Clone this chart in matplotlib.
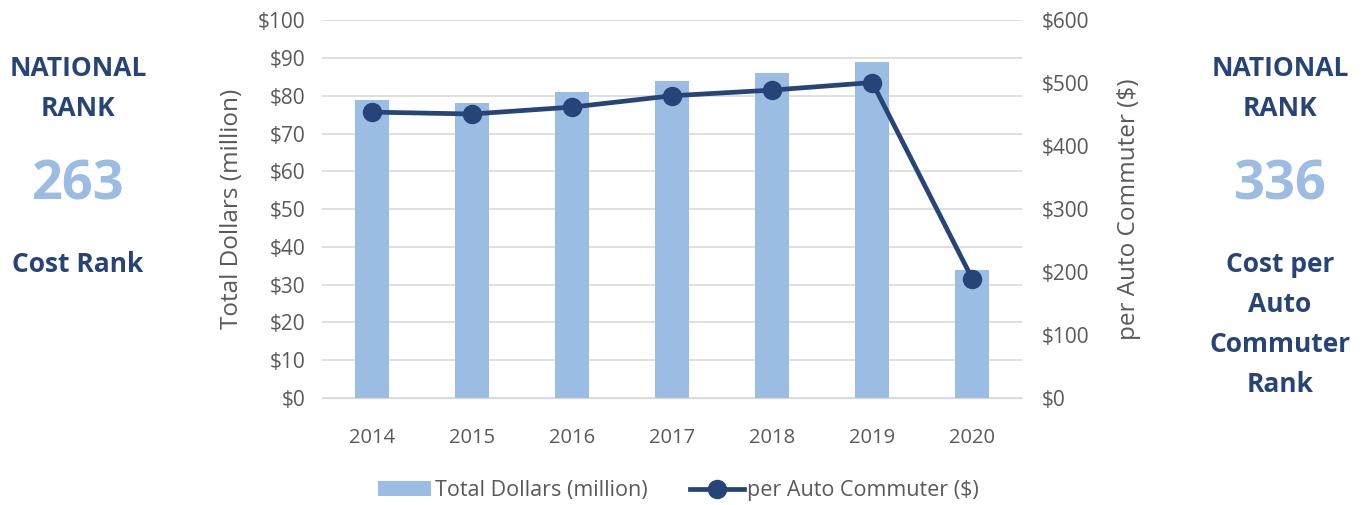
import matplotlib.pyplot as plt
from matplotlib.ticker import FuncFormatter

# Data
years = ['2014', '2015', '2016', '2017', '2018', '2019', '2020']
total_dollars = [79, 78, 81, 84, 86, 89, 34]           # million
per_commuter = [454, 451, 462, 480, 489, 501, 189]     # $
cost_rank = '263'
per_commuter_rank = '336'

navy = '#264478'
bar_blue = '#9BBDE4'
grey = '#595959'

plt.rcParams['font.family'] = ['Open Sans', 'DejaVu Sans']

fig = plt.figure(figsize=(13.65, 5.05), dpi=100)
ax = fig.add_axes([0.236, 0.212, 0.513, 0.748])
ax2 = ax.twinx()

x = range(len(years))
ax.bar(x, total_dollars, width=0.34, color=bar_blue, zorder=2, label='Total Dollars (million)')
ax2.plot(x, per_commuter, color=navy, lw=3.4, marker='o', markersize=13,
         zorder=3, label='per Auto Commuter ($)')

ax.set_ylim(0, 100)
ax.set_yticks(range(0, 101, 10))
ax2.set_ylim(0, 600)
ax2.set_yticks(range(0, 601, 100))
ax.set_xlim(-0.5, 6.5)
ax.set_xticks(list(x))
ax.set_xticklabels(years)

ax.yaxis.set_major_formatter(FuncFormatter(lambda v, p: f'${v:.0f}'))
ax2.yaxis.set_major_formatter(FuncFormatter(lambda v, p: f'${v:.0f}'))

ax.grid(axis='y', color='#D9D9D9', lw=1.2, zorder=0)
ax.set_axisbelow(True)
for a in (ax, ax2):
    for s in ('top', 'left', 'right'):
        a.spines[s].set_visible(False)
    a.spines['bottom'].set_color('#D9D9D9')
    a.tick_params(length=0, labelsize=15, colors=grey)
ax.tick_params(axis='x', pad=22, labelsize=14.5)
ax.tick_params(axis='y', pad=12)
ax2.tick_params(axis='y', pad=14)

ax.set_ylabel('Total Dollars (million)', fontsize=17.5, color=grey, labelpad=10)
ax2.set_ylabel('per Auto Commuter ($)', fontsize=17.5, color=grey, labelpad=20)

h1, l1 = ax.get_legend_handles_labels()
h2, l2 = ax2.get_legend_handles_labels()
fig.legend(h1 + h2, l1 + l2, loc='center', bbox_to_anchor=(0.497, 0.028), ncol=2,
           frameon=False, fontsize=15.5, labelcolor=grey, handlelength=2.5,
           handletextpad=0.15, columnspacing=2.0)

# side panels
bold = dict(ha='center', va='center', fontweight='bold', color=navy, fontsize=19)
fig.text(78 / 1365, 1 - 69 / 505, 'NATIONAL', **bold)
fig.text(78 / 1365, 1 - 109 / 505, 'RANK', **bold)
fig.text(78 / 1365, 1 - 185 / 505, cost_rank, ha='center', va='center',
         fontweight='bold', color=bar_blue, fontsize=39)
fig.text(78 / 1365, 1 - 264 / 505, 'Cost Rank', **bold)

fig.text(1280 / 1365, 1 - 69 / 505, 'NATIONAL', **bold)
fig.text(1280 / 1365, 1 - 109 / 505, 'RANK', **bold)
fig.text(1280 / 1365, 1 - 185 / 505, per_commuter_rank, ha='center', va='center',
         fontweight='bold', color=bar_blue, fontsize=39)
for i, t in enumerate(['Cost per', 'Auto', 'Commuter', 'Rank']):
    fig.text(1280 / 1365, 1 - (265 + 40 * i) / 505, t, **bold)

fig.savefig('out.png', dpi=100)
